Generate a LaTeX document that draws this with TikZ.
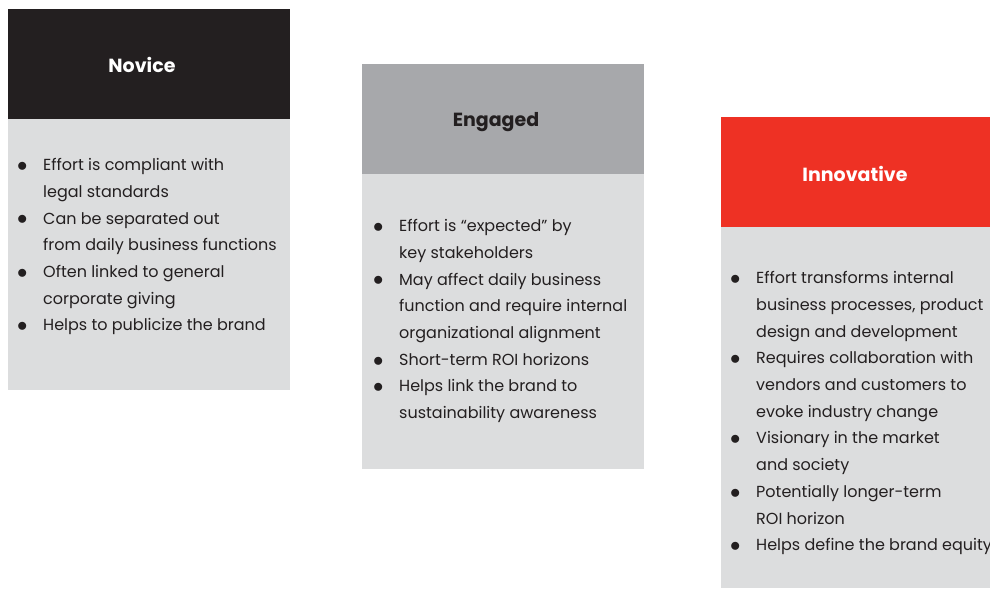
\documentclass[tikz,border=0pt]{standalone}
\usepackage{fontspec}
\setmainfont{Poppins}
\usepackage{array}
\definecolor{ink}{RGB}{35, 31, 32}
\definecolor{slate}{RGB}{167, 168, 171}
\definecolor{signal}{RGB}{238, 49, 36}
\definecolor{pale}{RGB}{220, 221, 222}
\newcommand*{\boxw}{282}
\newcommand*{\headh}{110}
\newcommand*{\titlefont}{\fontsize{19}{22}\selectfont\bfseries}
\newcommand*{\listfont}{\fontsize{16}{26.7}\selectfont}
\newcommand*{\listdot}{{\fontsize{21}{0}\selectfont\raisebox{-0.8pt}{$\bullet$}}}
\newenvironment{pointlist}
  {\listfont\begin{tabular}[t]{@{}p{26pt}@{}l@{}}}
  {\end{tabular}}

\begin{document}
\begin{tikzpicture}[x=1pt, y=1pt, text=ink]
  \useasboundingbox (0, 0) rectangle (990, -589);

  % first stage
  \fill [fill=ink] (8, -9) rectangle +(\boxw, -\headh);
  \fill [fill=pale] (8, -9 - \headh) rectangle (8 + \boxw, -390);
  \node[text=white, font=\titlefont] (novice) at (8 + 134, -65) {Novice};
  \node[anchor=base west, inner sep=0pt] (novicelist) at (8 + 9, -170.7) {
    \begin{pointlist}
      \listdot & Effort is compliant with \\
               & legal standards \\
      \listdot & Can be separated out \\
               & from daily business functions \\
      \listdot & Often linked to general \\
               & corporate giving \\
      \listdot & Helps to publicize the brand
    \end{pointlist}
  };

  % second stage
  \fill [fill=slate] (362, -64) rectangle +(\boxw, -\headh);
  \fill [fill=pale] (362, -64 - \headh) rectangle (362 + \boxw, -469);
  \node[font=\titlefont] (engaged) at (362 + 134, -122) {Engaged};
  \node[anchor=base west, inner sep=0pt] (engagedlist) at (362 + 11, -231.7) {
    \begin{pointlist}
      \listdot & Effort is ``expected'' by \\
               & key stakeholders \\
      \listdot & May affect daily business \\
               & function and require internal \\
               & organizational alignment \\
      \listdot & Short-term ROI horizons \\
      \listdot & Helps link the brand to \\
               & sustainability awareness
    \end{pointlist}
  };

  % third stage, runs off the right edge
  \fill [fill=signal] (721, -117) rectangle +(\boxw, -\headh);
  \fill [fill=pale] (721, -117 - \headh) rectangle (721 + \boxw, -588);
  \node[text=white, font=\titlefont] (innovative) at (721 + 134, -174) {Innovative};
  \node[anchor=base west, inner sep=0pt] (innovativelist) at (721 + 9, -283.7) {
    \begin{pointlist}
      \listdot & Effort transforms internal \\
               & business processes, product \\
               & design and development \\
      \listdot & Requires collaboration with \\
               & vendors and customers to \\
               & evoke industry change \\
      \listdot & Visionary in the market \\
               & and society \\
      \listdot & Potentially longer-term \\
               & ROI horizon \\
      \listdot & Helps define the brand equity
    \end{pointlist}
  };
\end{tikzpicture}
\end{document}
